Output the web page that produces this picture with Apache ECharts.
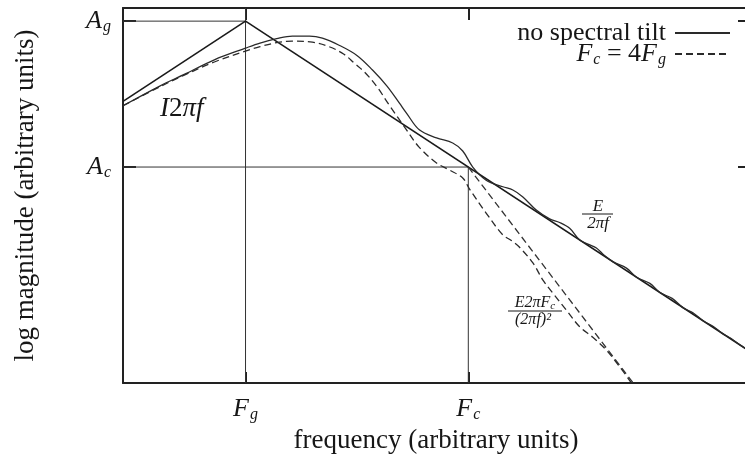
<!DOCTYPE html>
<html><head><meta charset="utf-8">
<script src="https://cdn.jsdelivr.net/npm/echarts@6/dist/echarts.min.js"></script>
<style>html,body{margin:0;padding:0;background:#fff}#c{width:745px;height:456px}</style>
</head><body><div id="c"></div>
<script>
// Units: x = log2(f / Fg) (octaves), y = log2(magnitude / Ag)
const xTicks = [0, 2];                 // Fg, Fc (Fc = 4 Fg)
const xTickSubs = ['g', 'c'];
const yTicks = [0, -2];                // Ag, Ac
const yTickSubs = ['g', 'c'];
const xRange = [-1.1, 4.52];
const yRange = [-4.96, 0.18];

const noTilt = [[-1.10,-1.16],[-0.77,-0.89],[-0.55,-0.73],[-0.28,-0.53],[0,-0.37],[0.13,-0.30],[0.28,-0.24],[0.42,-0.205],[0.575,-0.205],[0.69,-0.233],[0.84,-0.33],[1.00,-0.47],[1.14,-0.67],[1.27,-0.89],[1.38,-1.12],[1.445,-1.26],[1.56,-1.49],[1.715,-1.60],[1.86,-1.67],[1.95,-1.78],[2.04,-2.00],[2.16,-2.18],[2.31,-2.27],[2.40,-2.315],[2.49,-2.41],[2.61,-2.59],[2.73,-2.71],[2.82,-2.76],[2.91,-2.84],[3.00,-3.00],[3.08,-3.06],[3.15,-3.11],[3.22,-3.21],[3.30,-3.30],[3.42,-3.385],[3.51,-3.51],[3.63,-3.595],[3.72,-3.72],[3.83,-3.80],[3.93,-3.93],[4.02,-4.00],[4.11,-4.11],[4.20,-4.185],[4.28,-4.28],[4.36,-4.35],[4.44,-4.44],[4.52,-4.515]];
const tilt4 = [[-1.10,-1.16],[-0.77,-0.90],[-0.55,-0.74],[-0.28,-0.56],[0,-0.41],[0.13,-0.35],[0.28,-0.295],[0.42,-0.274],[0.60,-0.288],[0.75,-0.35],[0.88,-0.45],[0.98,-0.58],[1.07,-0.70],[1.18,-0.90],[1.29,-1.15],[1.445,-1.49],[1.56,-1.73],[1.715,-1.945],[1.83,-2.04],[1.95,-2.15],[2.01,-2.30],[2.16,-2.63],[2.31,-2.93],[2.39,-3.01],[2.46,-3.10],[2.58,-3.315],[2.67,-3.55],[2.76,-3.73],[2.88,-3.96],[3.00,-4.19],[3.115,-4.33],[3.24,-4.51],[3.36,-4.74],[3.465,-4.96]];
const lowAsym = [[-1.1,-1.1],[0,0]];
const highAsym = [[0,0],[4.52,-4.52]];
const tiltAsym = [[2,-2],[3.48,-4.96]];
const guideAg = [[-1.1,0],[0,0]];
const guideFg = [[0,0.18],[0,-4.96]];
const guideAc = [[-1.1,-2],[2,-2]];
const guideFc = [[2,-2],[2,-4.96]];

const FF = '"Liberation Serif", "DejaVu Serif", serif';
const INK = '#161616';
const subRich = {
  m: {fontFamily: FF, fontStyle: 'italic', fontSize: 26, color: INK},
  s: {fontFamily: FF, fontStyle: 'italic', fontSize: 16, color: INK, padding: [12, 0, 0, 1]},
  r: {fontFamily: FF, fontSize: 26, color: INK}
};
function tickFmt(letter, vals, subs) {
  return v => { const i = vals.indexOf(v); return i < 0 ? '' : '{m|' + letter + '}{s|' + subs[i] + '}'; };
}
const axisLineStyle = {color: '#222', width: 2};

function plain(data, width, color, dash) {
  return {type: 'line', data, symbol: 'none', silent: true, animation: false,
    lineStyle: {width, color, type: dash || 'solid'}, z: 2};
}

const chart = echarts.init(document.getElementById('c'), null, {renderer: 'canvas'});
chart.setOption({
  backgroundColor: '#fff',
  animation: false,
  grid: {left: 123, top: 8, width: 626, height: 375, containLabel: false, outerBoundsMode: 'none'},
  legend: {
    orient: 'vertical', right: 9, top: 15, align: 'right',
    itemWidth: 55, itemHeight: 12, itemGap: -5,
    itemStyle: {opacity: 0},
    data: ['no spectral tilt', 'Fc = 4Fg'],
    textStyle: {fontFamily: FF, fontSize: 26, color: INK, lineHeight: 21, padding: [0, 4, 0, 0], rich: subRich},
    formatter: n => n === 'Fc = 4Fg' ? '{m|F}{s|c}{r| = 4}{m|F}{s|g}' : n
  },
  xAxis: [{
    type: 'value', min: xRange[0], max: xRange[1], position: 'bottom',
    axisLine: {show: true, onZero: false, lineStyle: axisLineStyle},
    axisTick: {show: true, inside: true, length: 11, customValues: xTicks, lineStyle: axisLineStyle},
    axisLabel: {show: true, customValues: xTicks, margin: 12, formatter: tickFmt('F', xTicks, xTickSubs), rich: subRich},
    splitLine: {show: false},
    name: 'frequency (arbitrary units)', nameLocation: 'middle', nameGap: 40,
    nameTextStyle: {fontFamily: FF, fontSize: 27, color: INK}
  }, {
    type: 'value', min: xRange[0], max: xRange[1], position: 'top',
    axisLine: {show: true, onZero: false, lineStyle: axisLineStyle},
    axisTick: {show: true, inside: true, length: 12, customValues: xTicks, lineStyle: axisLineStyle},
    axisLabel: {show: false}, splitLine: {show: false}
  }],
  yAxis: [{
    type: 'value', min: yRange[0], max: yRange[1], position: 'left',
    axisLine: {show: true, onZero: false, lineStyle: axisLineStyle},
    axisTick: {show: true, inside: true, length: 13, customValues: yTicks, lineStyle: axisLineStyle},
    axisLabel: {show: true, customValues: yTicks, margin: 12, formatter: tickFmt('A', yTicks, yTickSubs), rich: subRich},
    splitLine: {show: false},
    name: 'log magnitude (arbitrary units)', nameLocation: 'middle', nameGap: 84, nameRotate: 90,
    nameTextStyle: {fontFamily: FF, fontSize: 27, color: INK}
  }, {
    type: 'value', min: yRange[0], max: yRange[1], position: 'right',
    axisLine: {show: true, onZero: false, lineStyle: axisLineStyle},
    axisTick: {show: true, inside: true, length: 11, customValues: yTicks, lineStyle: axisLineStyle},
    axisLabel: {show: false}, splitLine: {show: false}
  }],
  series: [
    plain(guideAg, 1, '#333'), plain(guideFg, 1, '#333'),
    plain(guideAc, 1, '#333'), plain(guideFc, 1, '#333'),
    plain(lowAsym, 1.6, '#1a1a1a'), plain(highAsym, 1.6, '#1a1a1a'),
    plain(tiltAsym, 1.3, '#333', [7, 4]),
    {name: 'no spectral tilt', type: 'line', data: noTilt, symbol: 'none', smooth: 0.35, animation: false,
      lineStyle: {width: 1.3, color: '#2a2a2a'}, itemStyle: {color: '#2a2a2a'}, z: 3},
    {name: 'Fc = 4Fg', type: 'line', data: tilt4, symbol: 'none', smooth: 0.35, animation: false,
      lineStyle: {width: 1.3, color: '#2a2a2a', type: [7, 4]}, itemStyle: {color: '#2a2a2a'}, z: 3}
  ],
  graphic: [
    {type: 'text', left: 160, top: 95, style: {text: '{i|I}{r|2}{i|πf}', rich: {
      i: {fontFamily: FF, fontStyle: 'italic', fontSize: 27, fill: INK},
      r: {fontFamily: FF, fontSize: 27, fill: INK}}}},
    {type: 'text', x: 598, y: 207, style: {text: 'E', font: 'italic 17px ' + FF, fill: INK, align: 'center', verticalAlign: 'middle'}},
    {type: 'line', shape: {x1: 582, y1: 214, x2: 613, y2: 214}, style: {stroke: INK, lineWidth: 1}},
    {type: 'text', x: 598, y: 224, style: {text: '2πf', font: 'italic 17px ' + FF, fill: INK, align: 'center', verticalAlign: 'middle'}},
    {type: 'text', x: 535, y: 303, style: {text: '{n|E2πF}{s|c}', align: 'center', verticalAlign: 'middle', rich: {
      n: {fontFamily: FF, fontStyle: 'italic', fontSize: 16, fill: INK},
      s: {fontFamily: FF, fontStyle: 'italic', fontSize: 11, fill: INK, padding: [6, 0, 0, 0]}}}},
    {type: 'line', shape: {x1: 508, y1: 311, x2: 562, y2: 311}, style: {stroke: INK, lineWidth: 1}},
    {type: 'text', x: 533, y: 320, style: {text: '(2πf)²', font: 'italic 16px ' + FF, fill: INK, align: 'center', verticalAlign: 'middle'}}
  ]
});
</script></body></html>
